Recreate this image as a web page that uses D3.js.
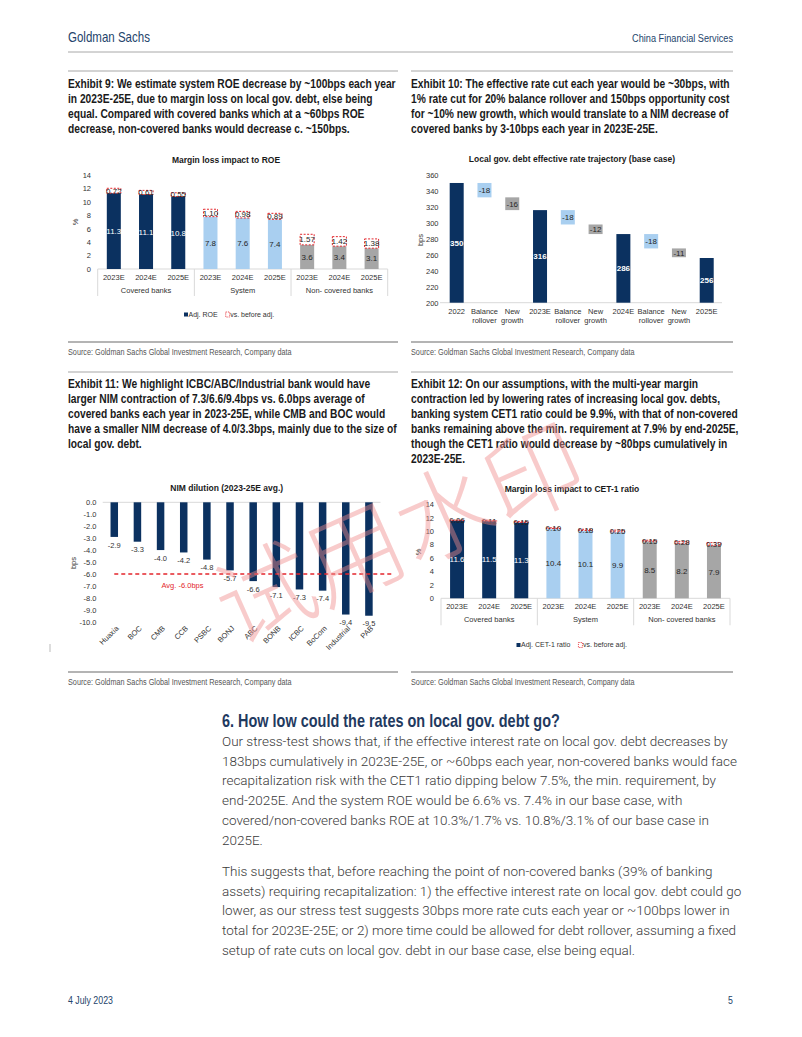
<!DOCTYPE html>
<html><head><meta charset="utf-8">
<script src="https://cdn.jsdelivr.net/npm/d3@7"></script>
<style>body{margin:0;background:#fff}</style>
</head><body>
<script>
// ---------------- DATA ----------------
const groupNames = ["Covered banks", "System", "Non- covered banks"];
const yearLabels = ["2023E", "2024E", "2025E"];
const roeAdj = [11.3, 11.1, 10.8, 7.8, 7.6, 7.4, 3.6, 3.4, 3.1];
const roeGap = [0.72, 0.61, 0.55, 1.10, 0.98, 0.89, 1.57, 1.42, 1.38];
const pctTicks = [0, 2, 4, 6, 8, 10, 12, 14];

const rateCats = ["2022", "Balance rollover", "New growth", "2023E", "Balance rollover", "New growth", "2024E", "Balance rollover", "New growth", "2025E"];
const rateVals = [350, -18, -16, 316, -18, -12, 286, -18, -11, 256];
const rateKind = ["total", "roll", "new", "total", "roll", "new", "total", "roll", "new", "total"];
const rateTicks = [200, 220, 240, 260, 280, 300, 320, 340, 360];

const nimBanks = ["Huaxia", "BOC", "CMB", "CCB", "PSBC", "BONJ", "ABC", "BONB", "ICBC", "BoCom", "Industrial", "PAB"];
const nimVals = [-2.9, -3.3, -4.0, -4.2, -4.8, -5.7, -6.6, -7.1, -7.3, -7.4, -9.4, -9.5];
const nimAvg = -6.0;
const nimTicks = [0, -1, -2, -3, -4, -5, -6, -7, -8, -9, -10];

const cetAdj = [11.6, 11.5, 11.3, 10.4, 10.1, 9.9, 8.5, 8.2, 7.9];
const cetGap = [0.06, 0.11, 0.15, 0.10, 0.18, 0.25, 0.15, 0.28, 0.39];

// ---------------- STYLE ----------------
const NAVY = "#0b3160", LBLUE = "#a9cff0", GRAY = "#a6a6a6", RED = "#e3262c", TXT = "#333333";
const ARIAL = "'Liberation Sans', Arial, sans-serif";
const BODY = "Roboto, 'Noto Sans', sans-serif";
const SX = 0.8; // horizontal condensing for the report's condensed typeface
const groupColor = [NAVY, LBLUE, GRAY];

const svg = d3.select("body").append("svg").attr("width", 802).attr("height", 1037).style("display", "block");

function txt(g, x, y, s, o = {}) {
  const t = g.append("text").attr("dy", "0.35em").text(s)
    .attr("font-family", o.ff || ARIAL).attr("font-size", o.fs || 7.5).attr("fill", o.fill || TXT);
  if (o.sx) t.attr("transform", `translate(${x},${y}) scale(${o.sx},1)`);
  else t.attr("x", x).attr("y", y);
  if (o.anchor) t.attr("text-anchor", o.anchor);
  if (o.fw) t.attr("font-weight", o.fw);
  return t;
}
function fitSize(str, ff, fw, target, sx = 1) {
  const t = svg.append("text").attr("font-family", ff).attr("font-weight", fw).attr("font-size", 20).text(str);
  const w = t.node().getComputedTextLength(); t.remove();
  return 20 * target / (w * sx);
}
function hline(x1, x2, y, color, w) {
  svg.append("line").attr("x1", x1).attr("x2", x2).attr("y1", y).attr("y2", y).attr("stroke", color).attr("stroke-width", w);
}

// ---------------- HEADER / FOOTER ----------------
const gsFs = fitSize("Goldman Sachs", ARIAL, "normal", 82, SX);
const cfsFs = fitSize("China Financial Services", ARIAL, "normal", 101, SX);
txt(svg, 68, 37, "Goldman Sachs", { fs: gsFs, fill: "#24446b", sx: SX });
txt(svg, 733, 38, "China Financial Services", { fs: cfsFs, fill: "#24446b", anchor: "end", sx: SX });
hline(68, 733, 52, "#a8a8a8", 1);
const ftFs = fitSize("4 July 2023", ARIAL, "normal", 45, SX);
txt(svg, 68, 1000, "4 July 2023", { fs: ftFs, fill: "#24446b", sx: SX });
txt(svg, 733, 1000, "5", { fs: ftFs, fill: "#24446b", anchor: "end", sx: SX });
svg.append("line").attr("x1", 50).attr("x2", 50).attr("y1", 644).attr("y2", 652).attr("stroke", "#bbb").attr("stroke-width", 1);

// ---------------- EXHIBIT TITLES ----------------
const ex9 = ["Exhibit 9: We estimate system ROE decrease by ~100bps each year", "in 2023E-25E, due to margin loss on local gov. debt, else being", "equal. Compared with covered banks which at a ~60bps ROE", "decrease, non-covered banks would decrease c. ~150bps."];
const ex10 = ["Exhibit 10: The effective rate cut each year would be ~30bps, with", "1% rate cut for 20% balance rollover and 150bps opportunity cost", "for ~10% new growth, which would translate to a NIM decrease of", "covered banks by 3-10bps each year in 2023E-25E."];
const ex11 = ["Exhibit 11: We highlight ICBC/ABC/Industrial bank would have", "larger NIM contraction of 7.3/6.6/9.4bps vs. 6.0bps average of", "covered banks each year in 2023-25E, while CMB and BOC would", "have a smaller NIM decrease of 4.0/3.3bps, mainly due to the size of", "local gov. debt."];
const ex12 = ["Exhibit 12: On our assumptions, with the multi-year margin", "contraction led by lowering rates of increasing local gov. debts,", "banking system CET1 ratio could be 9.9%, with that of non-covered", "banks remaining above the min. requirement at 7.9% by end-2025E,", "though the CET1 ratio would decrease by ~80bps cumulatively in", "2023E-25E."];
const titleFs = fitSize(ex9[0], ARIAL, "bold", 328, SX);
function exTitle(lines, x, y0) {
  lines.forEach((l, i) => txt(svg, x, y0 + 15 * i, l, { fs: titleFs, fw: "bold", fill: "#1a1a1a", sx: SX }));
}
hline(68, 398, 71, "#a8a8a8", 1.2); hline(411, 733, 71, "#a8a8a8", 1.2);
exTitle(ex9, 68, 84); exTitle(ex10, 411, 84);
hline(68, 398, 372, "#a8a8a8", 1.2); hline(411, 733, 372, "#a8a8a8", 1.2);
exTitle(ex11, 68, 384); exTitle(ex12, 411, 384);

const srcText = "Source: Goldman Sachs Global Investment Research, Company data";
const srcFs = fitSize(srcText, ARIAL, "normal", 224, SX);
function source(x1, x2, y) {
  hline(x1, x2, y, "#b4b4b4", 2);
  txt(svg, x1, y + 9.5, srcText, { fs: srcFs, fill: "#555", sx: SX });
}
source(68, 398, 342); source(411, 733, 342);
source(68, 398, 672); source(411, 733, 672);

// ---------------- MARGIN CHARTS (ROE / CET1) ----------------
function marginChart(c) {
  const g = svg.append("g");
  const n = c.adj.length;
  const x = d3.scaleBand().domain(d3.range(n)).range([c.x0, c.x1]).paddingInner(0.565).paddingOuter(0.2825);
  const y = d3.scaleLinear().domain([0, 14]).range([c.yb, c.yt]);
  txt(g, c.titleX, c.titleY, c.title, { fs: 8.5, fw: "bold", fill: "#1a1a1a", anchor: "middle" });
  const ax = g.append("g").attr("transform", `translate(${c.x0},0)`)
    .call(d3.axisLeft(y).tickValues(pctTicks).tickSize(0).tickPadding(c.x0 - c.tickRight));
  ax.select(".domain").remove();
  ax.selectAll("text").attr("font-family", ARIAL).attr("font-size", 7.5).attr("fill", TXT);
  g.append("text").attr("transform", `translate(${c.ylabX},${c.ylabY}) rotate(-90)`).attr("text-anchor", "middle")
    .attr("dy", "0.35em").attr("font-family", ARIAL).attr("font-size", 7.5).attr("fill", TXT).text("%");
  g.append("line").attr("x1", c.x0).attr("x2", c.x1).attr("y1", y(0)).attr("y2", y(0)).attr("stroke", "#d9d9d9").attr("stroke-width", 1);
  c.adj.forEach((v, i) => {
    g.append("rect").attr("x", x(i)).attr("width", x.bandwidth()).attr("y", y(v)).attr("height", y(0) - y(v))
      .attr("fill", groupColor[Math.floor(i / 3)]);
  });
  c.adj.forEach((v, i) => {
    g.append("rect").attr("x", x(i)).attr("width", x.bandwidth()).attr("y", y(v + c.gap[i])).attr("height", Math.max(0.6, y(v) - y(v + c.gap[i])))
      .attr("fill", "#fff").attr("stroke", RED).attr("stroke-width", 1).attr("stroke-dasharray", "2,1.5");
  });
  c.adj.forEach((v, i) => {
    const cx = x(i) + x.bandwidth() / 2;
    txt(g, cx, (y(0) + y(v)) / 2, v.toFixed(1), { fs: 8, anchor: "middle", fill: i < 3 ? "#ffffff" : "#262626" });
    txt(g, cx, (y(v) + y(v + c.gap[i])) / 2, c.gap[i].toFixed(2), { fs: 8, anchor: "middle", fill: "#262626" });
  });
  const step = x.step();
  c.adj.forEach((v, i) => txt(g, x(i) + x.bandwidth() / 2, c.yb + 8.5, yearLabels[i % 3], { fs: 7.5, anchor: "middle" }));
  groupNames.forEach((gn, k) => txt(g, c.x0 + step * (3 * k + 1.5), c.yb + 21, gn, { fs: 7.5, anchor: "middle" }));
  for (let k = 0; k <= 3; k++) {
    const xx = c.x0 + step * 3 * k;
    g.append("line").attr("x1", xx).attr("x2", xx).attr("y1", c.yb).attr("y2", c.yb + 27).attr("stroke", "#d9d9d9").attr("stroke-width", 1);
  }
  g.append("rect").attr("x", c.legX).attr("y", c.legY - 2).attr("width", 4).attr("height", 4).attr("fill", NAVY);
  const t1 = txt(g, c.legX + 4.5, c.legY, c.legName, { fs: 7 });
  const lx = c.legX + 4.5 + t1.node().getComputedTextLength() + 8;
  g.append("rect").attr("x", lx).attr("y", c.legY - 2.5).attr("width", 4).attr("height", 5).attr("fill", "#fff")
    .attr("stroke", RED).attr("stroke-width", 0.8).attr("stroke-dasharray", "1.2,1");
  txt(g, lx + 4.5, c.legY, "vs. before adj.", { fs: 7 });
}

marginChart({ adj: roeAdj, gap: roeGap, x0: 97.7, x1: 387.7, yb: 269, yt: 175, title: "Margin loss impact to ROE",
  titleX: 226, titleY: 160.5, tickRight: 91, ylabX: 75, ylabY: 222, legX: 184, legY: 314.5, legName: "Adj. ROE" });
marginChart({ adj: cetAdj, gap: cetGap, x0: 441, x1: 730, yb: 598.3, yt: 504.3, title: "Margin loss impact to CET-1 ratio",
  titleX: 572, titleY: 489, tickRight: 434, ylabX: 418.5, ylabY: 552, legX: 516.5, legY: 645, legName: "Adj. CET-1 ratio" });

// ---------------- WATERFALL ----------------
(function () {
  const g = svg.append("g");
  const x = d3.scaleBand().domain(d3.range(rateCats.length)).range([442.8, 720.6]).paddingInner(0.496).paddingOuter(0.248);
  const y = d3.scaleLinear().domain([200, 360]).range([302.7, 175]);
  txt(g, 572, 159.5, "Local gov. debt effective rate trajectory (base case)", { fs: 8.5, fw: "bold", fill: "#1a1a1a", anchor: "middle" });
  const ax = g.append("g").attr("transform", "translate(442.8,0)")
    .call(d3.axisLeft(y).tickValues(rateTicks).tickSize(0).tickPadding(442.8 - 438.5));
  ax.select(".domain").remove();
  ax.selectAll("text").attr("font-family", ARIAL).attr("font-size", 7.5).attr("fill", TXT);
  g.append("text").attr("transform", "translate(420,240) rotate(-90)").attr("text-anchor", "middle").attr("dy", "0.35em")
    .attr("font-family", ARIAL).attr("font-size", 7.5).attr("fill", TXT).text("bps");
  g.append("line").attr("x1", 440).attr("x2", 722).attr("y1", y(200)).attr("y2", y(200)).attr("stroke", "#d9d9d9");
  let run = 0;
  rateVals.forEach((v, i) => {
    let top, bot, fill, lc, fw = "normal";
    if (rateKind[i] === "total") { run = v; top = y(v); bot = y(200); fill = NAVY; lc = "#ffffff"; fw = "bold"; }
    else { const a = run, b = run + v; run = b; top = y(a); bot = y(b); fill = rateKind[i] === "roll" ? LBLUE : GRAY; lc = "#262626"; }
    g.append("rect").attr("x", x(i)).attr("width", x.bandwidth()).attr("y", top).attr("height", bot - top).attr("fill", fill);
    txt(g, x(i) + x.bandwidth() / 2, (top + bot) / 2, String(v), { fs: 8, anchor: "middle", fill: lc, fw: fw });
    const parts = rateCats[i].split(" ");
    parts.forEach((p, j) => txt(g, x(i) + x.bandwidth() / 2, 311.5 + 9 * j, p, { fs: 7.5, anchor: "middle" }));
  });
})();

// ---------------- NIM DILUTION ----------------
(function () {
  const g = svg.append("g");
  const x = d3.scaleBand().domain(nimBanks).range([102.7, 380.5]).paddingInner(0.676).paddingOuter(0.338);
  const y = d3.scaleLinear().domain([-10, 0]).range([621.7, 502.3]);
  txt(g, 226.7, 488.3, "NIM dilution (2023-25E avg.)", { fs: 8.5, fw: "bold", fill: "#1a1a1a", anchor: "middle" });
  const ax = g.append("g").attr("transform", "translate(102.7,0)")
    .call(d3.axisLeft(y).tickValues(nimTicks).tickSize(0).tickPadding(102.7 - 96.5).tickFormat(d => d.toFixed(1)));
  ax.select(".domain").remove();
  ax.selectAll("text").attr("font-family", ARIAL).attr("font-size", 7.5).attr("fill", TXT);
  g.append("text").attr("transform", "translate(73,563) rotate(-90)").attr("text-anchor", "middle").attr("dy", "0.35em")
    .attr("font-family", ARIAL).attr("font-size", 7.5).attr("fill", TXT).text("bps");
  g.append("line").attr("x1", 102.7).attr("x2", 380.5).attr("y1", y(0)).attr("y2", y(0)).attr("stroke", "#d9d9d9");
  nimBanks.forEach((b, i) => {
    const v = nimVals[i];
    g.append("rect").attr("x", x(b)).attr("width", x.bandwidth()).attr("y", y(0)).attr("height", y(v) - y(0)).attr("fill", NAVY);
  });
  const c0 = x(nimBanks[0]) + x.bandwidth() / 2, cN = x(nimBanks[nimBanks.length - 1]) + x.bandwidth() / 2 + x.step();
  g.append("line").attr("x1", c0).attr("x2", cN).attr("y1", y(nimAvg)).attr("y2", y(nimAvg))
    .attr("stroke", RED).attr("stroke-width", 1.4).attr("stroke-dasharray", "4,3");
  txt(g, 182.5, y(nimAvg) + 11.5, "Avg. " + nimAvg.toFixed(1) + "bps", { fs: 7.5, fill: RED, anchor: "middle" });
  nimBanks.forEach((b, i) => {
    const v = nimVals[i], cx = x(b) + x.bandwidth() / 2;
    txt(g, cx, y(v) + 8, v.toFixed(1), { fs: 7.5, anchor: "middle" });
    g.append("text").attr("transform", `translate(${cx + 3},${627}) rotate(-45)`).attr("text-anchor", "end").attr("dy", "0.35em")
      .attr("font-family", ARIAL).attr("font-size", 7.5).attr("fill", TXT).text(b);
  });
})();

// ---------------- SECTION TEXT ----------------
const heading = "6. How low could the rates on local gov. debt go?";
const para1 = ["Our stress-test shows that, if the effective interest rate on local gov. debt decreases by", "183bps cumulatively in 2023E-25E, or ~60bps each year, non-covered banks would face", "recapitalization risk with the CET1 ratio dipping below 7.5%, the min. requirement, by", "end-2025E. And the system ROE would be 6.6% vs. 7.4% in our base case, with", "covered/non-covered banks ROE at 10.3%/1.7% vs. 10.8%/3.1% of our base case in", "2025E."];
const para2 = ["This suggests that, before reaching the point of non-covered banks (39% of banking", "assets) requiring recapitalization: 1) the effective interest rate on local gov. debt could go", "lower, as our stress test suggests 30bps more rate cuts each year or ~100bps lower in", "total for 2023E-25E; or 2) more time could be allowed for debt rollover, assuming a fixed", "setup of rate cuts on local gov. debt in our base case, else being equal."];
const hFs = fitSize(heading, ARIAL, "bold", 338, SX);
txt(svg, 222, 721, heading, { fs: hFs, fw: "bold", fill: "#1f3a5f", sx: SX });
const bFs = fitSize(para1[0], BODY, 300, 506);
para1.forEach((l, i) => txt(svg, 222, 741 + 19.8 * i, l, { ff: BODY, fs: bFs, fill: "#3a3a3a" }).attr("font-weight", 300));
para2.forEach((l, i) => txt(svg, 222, 871 + 19.8 * i, l, { ff: BODY, fs: bFs, fill: "#3a3a3a" }).attr("font-weight", 300));

// ---------------- WATERMARK ----------------
svg.append("text").attr("transform", "translate(400,535) rotate(-24)").attr("text-anchor", "middle").attr("dy", "0.35em")
  .attr("font-family", "'Noto Sans CJK SC', sans-serif").attr("font-weight", 300).attr("font-size", 98)
  .attr("fill", "#f08c8c").attr("fill-opacity", 0.45).text("试用水印");
</script>
</body></html>
